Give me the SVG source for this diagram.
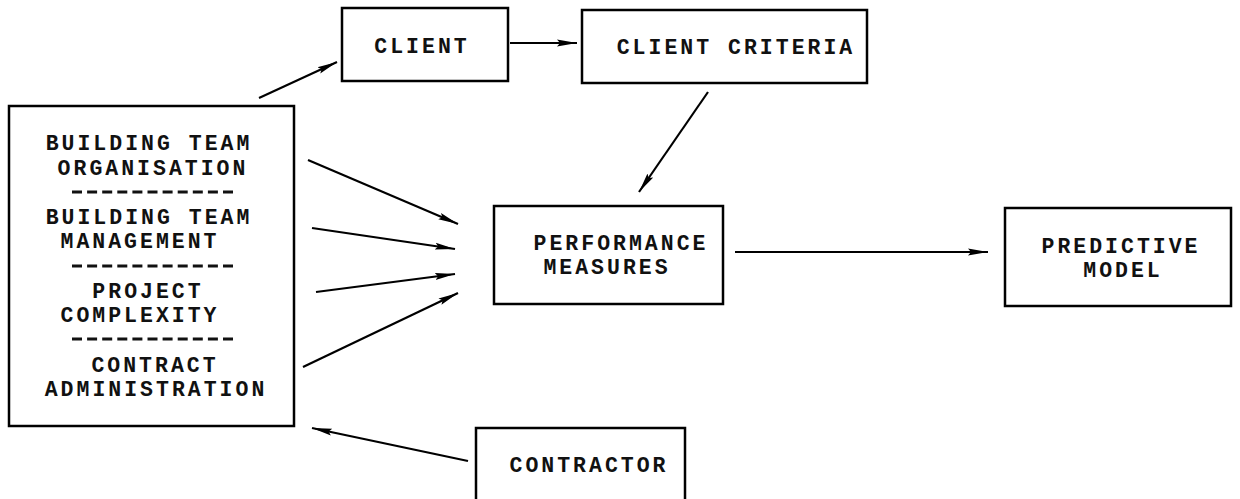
<svg xmlns="http://www.w3.org/2000/svg" width="1240" height="499" viewBox="0 0 1240 499">
<style>
.box{fill:#fff;stroke:#000;stroke-width:2.5}
.t{font-family:"Liberation Mono","Courier New",monospace;font-weight:bold;font-size:21.5px;letter-spacing:3px;fill:#111;text-anchor:middle}
.sep{stroke:#111;stroke-width:3;stroke-dasharray:10 5.1}
.c{stroke:#000;stroke-width:2.2;fill:none;marker-end:url(#ah)}
</style>
<defs>
<marker id="ah" markerUnits="userSpaceOnUse" markerWidth="24" markerHeight="12" refX="20" refY="6" orient="auto">
<path d="M0,2.5 L20,6 L0,9.5 L3,6 Z" fill="#000"/>
</marker>
</defs>
<rect width="1240" height="499" fill="#fff"/>
<g id="factors">
<rect class="box" x="9" y="106" width="285" height="320"/>
<text class="t" x="149" y="150">BUILDING TEAM</text>
<text class="t" x="153" y="175">ORGANISATION</text>
<line class="sep" x1="72" y1="192" x2="234" y2="192"/>
<text class="t" x="149" y="224">BUILDING TEAM</text>
<text class="t" x="140" y="248">MANAGEMENT</text>
<line class="sep" x1="72" y1="266" x2="234" y2="266"/>
<text class="t" x="148" y="298">PROJECT</text>
<text class="t" x="140" y="322">COMPLEXITY</text>
<line class="sep" x1="72" y1="339" x2="234" y2="339"/>
<text class="t" x="155" y="372">CONTRACT</text>
<text class="t" x="156" y="396">ADMINISTRATION</text>
</g>
<g id="client">
<rect class="box" x="342" y="8" width="166" height="73"/>
<text class="t" x="422" y="53">CLIENT</text>
</g>
<g id="criteria">
<rect class="box" x="582" y="10" width="285" height="73"/>
<text class="t" x="736" y="54">CLIENT CRITERIA</text>
</g>
<g id="performance">
<rect class="box" x="494" y="206" width="229" height="98"/>
<text class="t" x="621" y="250">PERFORMANCE</text>
<text class="t" x="607" y="274">MEASURES</text>
</g>
<g id="predictive">
<rect class="box" x="1005" y="208" width="226" height="98"/>
<text class="t" x="1121" y="253">PREDICTIVE</text>
<text class="t" x="1123" y="277">MODEL</text>
</g>
<g id="contractor">
<rect class="box" x="476" y="428" width="209" height="80"/>
<text class="t" x="589" y="472">CONTRACTOR</text>
</g>
<g id="connectors">
<line class="c" x1="259" y1="98" x2="337" y2="62"/>
<line class="c" x1="510" y1="43" x2="577" y2="43"/>
<line class="c" x1="708" y1="92" x2="639" y2="192"/>
<line class="c" x1="735" y1="252" x2="988" y2="252"/>
<line class="c" x1="308" y1="160" x2="458" y2="224"/>
<line class="c" x1="312" y1="228" x2="455" y2="249"/>
<line class="c" x1="316" y1="292" x2="455" y2="274"/>
<line class="c" x1="303" y1="367" x2="458" y2="293"/>
<line class="c" x1="468" y1="461" x2="312" y2="428"/>
</g>
</svg>
